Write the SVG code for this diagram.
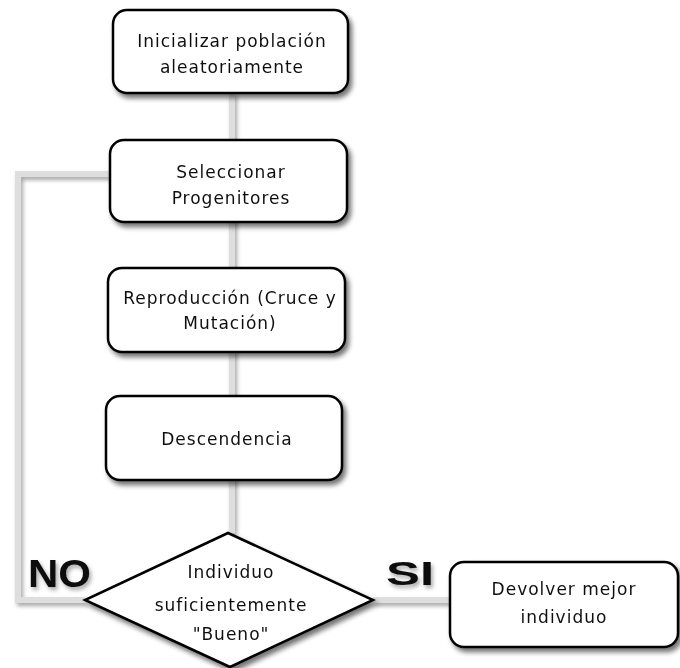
<svg xmlns="http://www.w3.org/2000/svg" width="680" height="668" viewBox="0 0 680 668">
<defs>
<filter id="sh" x="-10%" y="-10%" width="130%" height="140%">
<feGaussianBlur in="SourceAlpha" stdDeviation="2.5"/>
<feOffset dx="3" dy="4" result="b"/>
<feComponentTransfer><feFuncA type="linear" slope="0.55"/></feComponentTransfer>
<feMerge><feMergeNode/><feMergeNode in="SourceGraphic"/></feMerge>
</filter>
<filter id="lsh" x="-20%" y="-20%" width="140%" height="140%">
<feGaussianBlur in="SourceAlpha" stdDeviation="2"/>
<feOffset dx="2" dy="3" result="b"/>
<feComponentTransfer><feFuncA type="linear" slope="0.35"/></feComponentTransfer>
<feMerge><feMergeNode/><feMergeNode in="SourceGraphic"/></feMerge>
</filter>
</defs>
<style>
.box{fill:#fff;stroke:#000;stroke-width:2.5}
.t{font-family:"DejaVu Sans",sans-serif;font-size:17px;letter-spacing:1px;fill:#111;text-anchor:middle}
.lbl{font-family:"Liberation Sans",Arial,sans-serif;font-weight:bold;fill:#111}
.con{fill:none;stroke:#dedede;stroke-width:6}
</style>
<rect width="680" height="668" fill="#fff"/>
<g id="connectors" filter="url(#lsh)">
<path class="con" d="M232,93 V533"/>
<path class="con" d="M85,600 H18 V174 H110"/>
<path class="con" d="M373,600 H450"/>
</g>
<g id="n1" filter="url(#sh)">
<rect class="box" x="113" y="10" width="235" height="83" rx="14"/>
<text class="t" x="232" y="47">Inicializar población</text>
<text class="t" x="232" y="73">aleatoriamente</text>
</g>
<g id="n2" filter="url(#sh)">
<rect class="box" x="110" y="140" width="237" height="82" rx="14"/>
<text class="t" x="231" y="178">Seleccionar</text>
<text class="t" x="231" y="204">Progenitores</text>
</g>
<g id="n3" filter="url(#sh)">
<rect class="box" x="108" y="268" width="237" height="84" rx="14"/>
<text class="t" x="230" y="304">Reproducción (Cruce y</text>
<text class="t" x="230" y="329">Mutación)</text>
</g>
<g id="n4" filter="url(#sh)">
<rect class="box" x="106" y="396" width="236" height="84" rx="14"/>
<text class="t" x="227" y="445">Descendencia</text>
</g>
<g id="n5" filter="url(#sh)">
<path class="box" d="M228,533 L373,600 L230,667 L85,600 Z" stroke-linejoin="miter"/>
<text class="t" x="231" y="578">Individuo</text>
<text class="t" x="231" y="611">suficientemente</text>
<text class="t" x="231" y="640">"Bueno"</text>
</g>
<g id="n6" filter="url(#sh)">
<rect class="box" x="450" y="562" width="228" height="85" rx="14"/>
<text class="t" x="564" y="595">Devolver mejor</text>
<text class="t" x="564" y="623">individuo</text>
</g>
<g id="labels" filter="url(#lsh)">
<text class="lbl" x="28" y="587" font-size="38" textLength="63" lengthAdjust="spacingAndGlyphs">NO</text>
<text class="lbl" x="386" y="585" font-size="33" textLength="48" lengthAdjust="spacingAndGlyphs">SI</text>
</g>
</svg>
